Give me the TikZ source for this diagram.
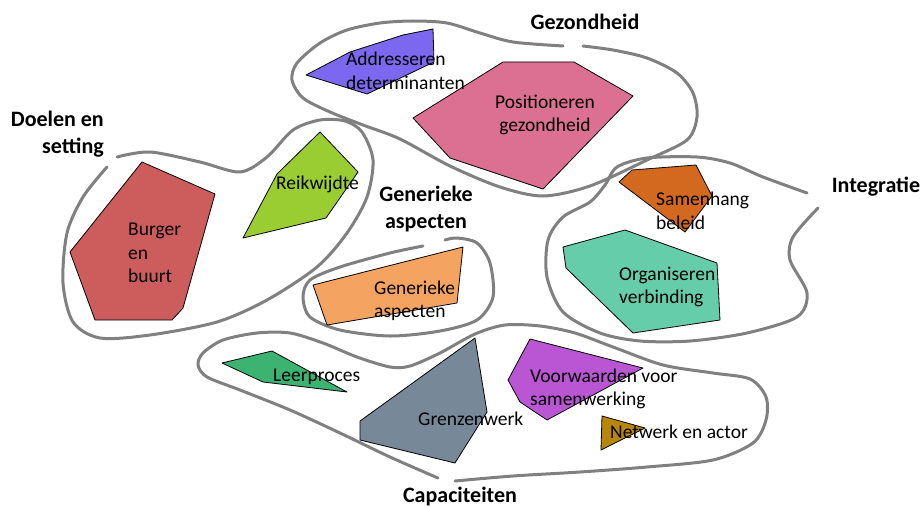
\documentclass[tikz,border=0pt]{standalone}
\usepackage{fontspec}
\setmainfont{Carlito}
\usepackage{tikz}
\definecolor{blobgrijs}{RGB}{128,128,128}
\definecolor{adres}{HTML}{7B68EE}
\definecolor{posit}{HTML}{DB7093}
\definecolor{burger}{HTML}{CD5C5C}
\definecolor{reik}{HTML}{9ACD32}
\definecolor{samen}{HTML}{D2691E}
\definecolor{organ}{HTML}{66CDAA}
\definecolor{gener}{HTML}{F4A460}
\definecolor{leer}{HTML}{3CB371}
\definecolor{grens}{HTML}{778899}
\definecolor{voorw}{HTML}{BA55D3}
\definecolor{netw}{HTML}{B8860B}
\begin{document}
\begin{tikzpicture}[x=1pt,y=-1pt]
\tikzstyle{every node}=[font=\fontsize{19.5}{23.5}\selectfont,inner sep=0pt,text=black]
\tikzstyle{blob}=[line width=3pt,color=blobgrijs,line cap=round]
\tikzstyle{vlak}=[draw=black,line width=0.8pt,line join=round]
\tikzstyle{kop}=[font=\fontsize{22}{27}\selectfont\bfseries,text=black]
\useasboundingbox (0,0) rectangle (923,508);
\draw[blob] plot[smooth] coordinates{(583,46) (613,50) (647,58) (677,73) (693,93) (697,117) (687,140) (647,160) (590,186) (543,196) (500,187) (450,166) (400,139) (363,125) (330,112) (303,98) (292,80) (297,63) (320,43) (347,30) (380,23) (413,21) (447,23) (480,33) (513,42) (563,46)};
\draw[blob] plot[smooth] coordinates{(117,157) (150,152) (200,162) (240,172) (267,157) (293,130) (320,120) (345,121) (362,132) (373,160) (367,197) (347,233) (317,267) (267,300) (217,322) (150,335) (100,338) (73,322) (63,283) (67,233) (83,197) (107,167)};
\draw[blob] plot[smooth] coordinates{(807,193) (763,177) (730,163) (697,157) (647,158) (617,167) (605,185) (590,202) (563,217) (548,240) (547,277) (563,312) (600,333) (640,341) (690,341) (747,333) (797,317) (807,293) (790,260) (793,237) (818,208)};
\draw[blob] plot[smooth] coordinates{(423,246) (390,253) (340,267) (310,280) (303,297) (310,317) (340,330) (390,336) (440,331) (477,320) (493,297) (490,263) (477,243) (457,238) (445,240)};
\draw[blob] plot[smooth] coordinates{(438,478) (390,457) (340,433) (290,410) (240,390) (207,377) (198,365) (203,353) (223,340) (257,333) (290,333) (323,343) (357,357) (390,367) (410,366) (440,353) (475,334) (505,325) (540,326) (575,333) (613,347) (663,365) (713,373) (750,379) (766,397) (766,420) (753,443) (713,460) (647,467) (580,472) (513,476) (455,481)};
\filldraw[vlak,fill=adres] (306,75)--(350,52)--(403,35)--(433,29)--(434,62)--(367,94)--cycle;
\filldraw[vlak,fill=posit] (503,62)--(574,62)--(633,96)--(543,189)--(450,158)--(413,118)--cycle;
\filldraw[vlak,fill=burger] (142,162)--(215,194)--(183,308)--(172,320)--(95,320)--(70,252)--cycle;
\filldraw[vlak,fill=reik] (320,132)--(358,172)--(326,218)--(243,238)--(277,174)--cycle;
\filldraw[vlak,fill=samen] (619,182)--(632,170)--(696,165)--(712,196)--(685,232)--cycle;
\filldraw[vlak,fill=organ] (563,247)--(625,230)--(717,263)--(720,320)--(633,333)--(566,268)--cycle;
\filldraw[vlak,fill=gener] (313,285)--(463,247)--(457,303)--(327,325)--cycle;
\filldraw[vlak,fill=leer] (222,363)--(272,351)--(347,392)--(263,382)--cycle;
\filldraw[vlak,fill=grens] (475,338)--(487,412)--(455,463)--(360,440)--(360,421)--cycle;
\filldraw[vlak,fill=voorw] (530,339)--(643,368)--(547,420)--(520,402)--(508,380)--cycle;
\filldraw[vlak,fill=netw] (602,416)--(645,428)--(601,450)--cycle;
\node[kop] (gezondheid) at (585,22) {Gezondheid};
\node[kop,align=right,anchor=east] (doelen) at (104,134) {Doelen en\\setting};
\node[kop,align=center] (generiek) at (426,209) {Generieke\\aspecten};
\node[kop] (integratie) at (876,187) {Integratie};
\node[kop] (capaciteiten) at (460,497) {Capaciteiten};
\node[align=left,anchor=west] (addresseren) at (346,71) {Addresseren\\determinanten};
\node[align=center] (positioneren) at (545,115) {Positioneren\\gezondheid};
\node[align=left,anchor=west] (burgerbuurt) at (128,253) {Burger\\en\\buurt};
\node[anchor=west] (reikwijdte) at (276,184) {Reikwijdte};
\node[align=left,anchor=west] (samenhang) at (656,211) {Samenhang\\beleid};
\node[align=left,anchor=west] (organiseren) at (619,287) {Organiseren\\verbinding};
\node[align=left,anchor=west] (generiekbinnen) at (374,301) {Generieke\\aspecten};
\node[anchor=west] (leerproces) at (273,377) {Leerproces};
\node[anchor=west] (grenzenwerk) at (418,419) {Grenzenwerk};
\node[align=left,anchor=west] (voorwaarden) at (530,389) {Voorwaarden voor\\samenwerking};
\node[anchor=west] (netwerk) at (610,432) {Netwerk en actor};
\end{tikzpicture}
\end{document}
